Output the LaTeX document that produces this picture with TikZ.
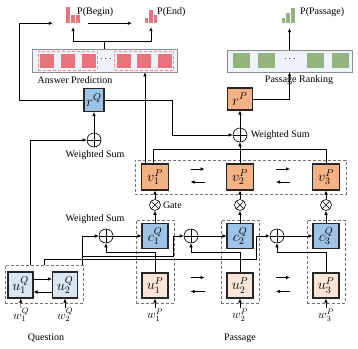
\documentclass[tikz,border=0pt]{standalone}
\usepackage{fontspec}
\setmainfont{Liberation Serif}
\usetikzlibrary{arrows.meta,calc}

\definecolor{qblue}{HTML}{9DC3E6}
\definecolor{qlight}{HTML}{D9E7F5}
\definecolor{porange}{HTML}{F4B183}
\definecolor{plight}{HTML}{FBE5D6}
\definecolor{ansred}{HTML}{E9737C}
\definecolor{rankgreen}{HTML}{93B47F}
\definecolor{panelbg}{HTML}{EEF3F9}

\begin{document}
\begin{tikzpicture}[
    x=1pt, y=-1pt,
    font=\fontsize{10}{12}\selectfont,
    cell/.style={draw=black!85, line width=1.1pt, minimum width=26pt, minimum height=25pt, inner sep=0pt, font=\fontsize{14}{15}\selectfont},
    group/.style={draw=black!55, dashed, dash pattern=on 3pt off 2pt, line width=0.6pt, inner sep=0pt},
    panel/.style={draw=black!45, fill=panelbg, line width=0.6pt, inner sep=0pt},
    square/.style={minimum width=14pt, minimum height=14pt, inner sep=0pt},
    wsum/.style={circle, draw, line width=0.6pt, minimum size=14pt, inner sep=0pt,
        path picture={\draw (path picture bounding box.north) -- (path picture bounding box.south)
            (path picture bounding box.west) -- (path picture bounding box.east);}},
    gate/.style={circle, draw, line width=0.6pt, minimum size=11pt, inner sep=0pt,
        path picture={\draw (path picture bounding box.north west) -- (path picture bounding box.south east)
            (path picture bounding box.north east) -- (path picture bounding box.south west);}},
    bars/.style={minimum width=14pt, minimum height=16pt, inner sep=0pt},
    word/.style={font=\fontsize{12}{13}\selectfont, inner sep=0pt},
    arrow/.style={-{Latex[length=4pt,width=3.5pt]}, line width=0.6pt},
    link/.style={line width=0.6pt}
]
    \useasboundingbox (0,0) rectangle (358,348);

    % output probabilities
    \node[bars] (begbars) at (73,15) {};
    \fill[ansred] (begbars.south west) rectangle ++(4.5,-16);
    \fill[ansred] ([xshift=5.5pt]begbars.south west) rectangle ++(3.5,-8);
    \fill[ansred] ([xshift=10pt]begbars.south west) rectangle ++(4,-8);
    \node[anchor=west, inner sep=0pt] (begtxt) at (77,12) {P(Begin)};
    \node[bars, minimum width=12pt] (endbars) at (151,15) {};
    \fill[ansred] (endbars.south west) rectangle ++(3.5,-5);
    \fill[ansred] ([xshift=4.5pt]endbars.south west) rectangle ++(3.5,-13);
    \fill[ansred] ([xshift=9pt]endbars.south west) rectangle ++(3.5,-8);
    \node[anchor=west, inner sep=0pt] (endtxt) at (157,12) {P(End)};
    \node[bars, minimum width=13pt] (rankbars) at (288.5,15) {};
    \fill[rankgreen] (rankbars.south west) rectangle ++(3.5,-5);
    \fill[rankgreen] ([xshift=4.5pt]rankbars.south west) rectangle ++(3.5,-10);
    \fill[rankgreen] ([xshift=9pt]rankbars.south west) rectangle ++(4,-15);
    \node[anchor=west, inner sep=0pt] (ranktxt) at (300,12) {P(Passage)};

    % answer prediction
    \node[panel, minimum width=145pt, minimum height=23pt] (ans) at (104.5,60.5) {};
    \node[group, draw=ansred!80, minimum width=59pt, minimum height=19pt] (ansl) at (67.5,60.5) {};
    \node[group, draw=ansred!80, minimum width=59pt, minimum height=19pt] (ansr) at (144,60.5) {};
    \foreach \x [count=\i] in {47,68,89,124,144,165}
        \node[square, fill=ansred] (a\i) at (\x,60.5) {};
    \node[inner sep=0pt] (adots) at (106,59) {$\cdots$};
    \node (anslab) at (75,80) {Answer Prediction};

    % passage ranking
    \node[panel, minimum width=125pt, minimum height=22pt] (rank) at (289.5,61) {};
    \foreach \x [count=\i] in {241,266,315,340}
        \node[square, minimum width=17pt, minimum height=15pt, fill=rankgreen] (p\i) at (\x,60.5) {};
    \node[inner sep=0pt] (pdots) at (290,59) {$\cdots$};
    \node (ranklab) at (299,80) {Passage Ranking};

    % summaries
    \node[cell, fill=qblue, minimum width=20pt, minimum height=23pt] (rq) at (94,100) {$r^Q$};
    \node[cell, fill=porange, minimum width=25pt, minimum height=22pt] (rp) at (240,99) {$r^P$};
    \node[wsum] (wsq) at (94,140) {};
    \node (wsqlab) at (95,155) {Weighted Sum};
    \node[wsum] (wsp) at (240,135) {};
    \node[anchor=west] (wsplab) at (wsp.east) {Weighted Sum};

    % passage columns
    \node[group, minimum width=211pt, minimum height=34pt] (vrow) at (240.5,177) {};
    \foreach \x [count=\i] in {155,240,326} {
        \node[group, minimum width=38pt, minimum height=83pt] (col\i) at (\x,261.5) {};
        \node[cell, fill=porange, minimum width=27pt, minimum height=26pt] (v\i) at (\x,177) {$v_{\i}^P$};
        \node[gate] (g\i) at (\x,205) {};
        \node[cell, fill=qblue] (c\i) at (\x,236) {$c_{\i}^Q$};
        \node[cell, fill=plight] (up\i) at (\x,285.5) {$u_{\i}^P$};
        \node[word] (wp\i) at (\x,315) {$w_{\i}^P$};
        \node[wsum] (ws\i) at (\x-49,236) {};
        \draw[arrow] (wp\i) -- (up\i);
        \draw[arrow] (up\i.north) -- ++(0,-20) -| (ws\i.south);
        \draw[arrow] (ws\i) -- (c\i);
        \draw[arrow] (c\i) -- (g\i);
        \draw[arrow] (g\i) -- (v\i);
    }
    \node[anchor=west, inner sep=2pt] (gatelab) at (g1.east) {Gate};
    \node (wsclab) at (95,219) {Weighted Sum};
    \node (plab) at (240,338) {Passage};

    % left-right arrows
    \foreach \a/\b in {1/2,2/3} {
        \coordinate (mv\a) at ($(v\a)!0.5!(v\b)$);
        \coordinate (mu\a) at ($(up\a)!0.5!(up\b)$);
        \draw[arrow] ([xshift=-7pt,yshift=8pt]mv\a) -- ([xshift=7pt,yshift=8pt]mv\a);
        \draw[arrow] ([xshift=7pt,yshift=-5pt]mv\a) -- ([xshift=-7pt,yshift=-5pt]mv\a);
        \draw[arrow] ([xshift=-7pt,yshift=8pt]mu\a) -- ([xshift=7pt,yshift=8pt]mu\a);
        \draw[arrow] ([xshift=7pt,yshift=-6pt]mu\a) -- ([xshift=-7pt,yshift=-6pt]mu\a);
    }

    % question
    \node[group, minimum width=78pt, minimum height=38pt] (qbox) at (44,284) {};
    \node[cell, fill=qlight, minimum width=25pt, minimum height=26pt] (uq1) at (20.5,285) {$u_1^Q$};
    \node[cell, fill=qlight, minimum width=25pt, minimum height=26pt] (uq2) at (65,285) {$u_2^Q$};
    \node[word] (wq1) at (21,315) {$w_1^Q$};
    \node[word] (wq2) at (65,315) {$w_2^Q$};
    \node (qlab) at (46,338) {Question};
    \draw[arrow] (wq1) -- (uq1);
    \draw[arrow] (wq2) -- (uq2);
    \draw[arrow] ([yshift=6pt]uq1.east) -- ([yshift=6pt]uq2.west);
    \draw[arrow] ([yshift=-7pt]uq2.west) -- ([yshift=-7pt]uq1.east);

    % question to passage attention
    \draw[arrow] ([xshift=38pt]qbox.north) |- (ws1);
    \draw[arrow] ([xshift=38pt,yshift=8pt]qbox.north) -| ([xshift=-10pt]ws2.west) -- (ws2);
    \draw[arrow] (qbox.north) -- ++(0,-5) -| ([xshift=-13pt]ws3.west) -- (ws3);
    \draw[arrow] ([xshift=-14pt]qbox.north) |- (wsq);

    % summaries and outputs
    \draw[arrow] (wsq) -- (rq);
    \draw[arrow] (rq.east) -- ++(68,0) |- (wsp);
    \draw[arrow] (v2) -- (wsp);
    \draw[link] ([xshift=-2pt]v1.north) -- ++(0,-14) -| (v3.north);
    \draw[arrow] ([xshift=-10pt]v1.north) -- ([xshift=-10pt]v1.north |- ans.south);
    \draw[arrow] (wsp) -- (rp);
    \draw[arrow] (rp.east) -| (rank.south);
    \draw[arrow] (rank.north) -- ([yshift=-5pt]rankbars.south -| rank.north);
    \draw[arrow] (rq.west) -| ++(-64,0) |- ([xshift=-13pt]begbars.south west);
    \draw[link] (ans.north) -- ++(0,-7) coordinate (split);
    \draw[arrow] (split) -| ([yshift=-4pt]begbars.south);
    \draw[arrow] (split) -| ([yshift=-4pt]endbars.south);
    \draw[arrow] ([xshift=8pt]begbars.south east) -- ([xshift=-13pt]endbars.south west);
\end{tikzpicture}
\end{document}
